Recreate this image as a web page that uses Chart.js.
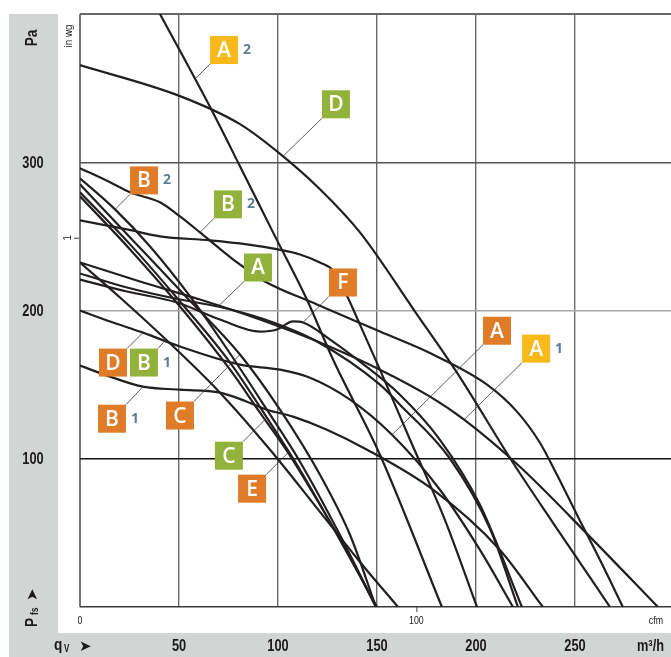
<!DOCTYPE html>
<html><head><meta charset="utf-8">
<script src="https://cdn.jsdelivr.net/npm/chart.js@4.4.0/dist/chart.umd.min.js"></script>
<style>html,body{margin:0;padding:0;background:#fff}canvas{display:block}</style>
</head><body><canvas id="c" width="671" height="657"></canvas>
<script>
// Fan characteristic curves: static pressure P_fs (Pa) over air flow q_V (m³/h)
const xTicks = [50, 100, 150, 200, 250];
const yTicks = [100, 200, 300];

const qD_g  = [0, 50.5, 80.8, 100, 121.2, 141.4, 169.2, 190.4, 218.7, 238.9, 267.7];
const pD_g  = [365.5, 344.6, 325.7, 306.8, 281.8, 252.7, 199.3, 158.1, 97.3, 56.8, 0];
const qA2_y = [40.4, 65.7, 80.8, 97.5, 114.6, 127.8, 151.5, 182.8];
const pA2_y = [400, 337.2, 297.3, 252.7, 207.4, 166.9, 102.7, 0];
const qB2_g = [0, 15.2, 25.3, 40.4, 50.5, 60.6, 69.2, 79.3, 93.4, 119.7, 151.5, 178.3, 205.6, 220.7, 232.3, 240.9, 251, 262.6, 274.2];
const pB2_g = [296, 286.5, 279.7, 273, 263.5, 252.7, 243.2, 232.4, 219.6, 204.1, 185.8, 170.3, 150, 131.8, 110.8, 89.2, 62.2, 31.8, 0];
const qB2_o = [0, 17.7, 35.4, 55.6, 75.8, 93.4, 111.1, 131.3, 149.5];
const pB2_o = [289.2, 268.2, 243.2, 209.5, 171, 135.1, 98, 48.6, 0];
const qC_o  = [0, 25.3, 53, 80.8, 101, 121.2, 136.4, 149.5];
const pC_o  = [285.1, 249.3, 210.1, 170.3, 133.1, 89.2, 48.6, 0];
const qC_g  = [0, 25.3, 50.5, 75.8, 94.4, 111.1, 131.3, 150];
const pC_g  = [279.7, 244.6, 206.1, 164.9, 127.7, 92.6, 45.3, 0];
const qE_o  = [0, 25.3, 50.5, 75.8, 90.9, 105.1, 121.2, 136.4, 149.5];
const pE_o  = [277, 241.2, 202.7, 160.1, 131.1, 104.1, 68.9, 33.8, 0];
const qB1_g = [0, 20.2, 43.4, 70.7, 96, 121.2, 141.4, 160.6];
const pB1_g = [232.4, 208.8, 180.4, 144.6, 106.1, 64.2, 30.4, 0];
const qA1_y = [0, 30.3, 60.6, 90.9, 121.2, 151.5, 176.8, 194, 222.2, 257.6, 291.9];
const pA1_y = [232.4, 219.6, 207.4, 193.9, 178.4, 160.1, 141.9, 126.4, 94.6, 47.3, 0];
const qA_g  = [0, 23.7, 50.5, 69.7, 93.4, 119.7, 151.5, 161.6, 186.9, 207.1, 221.2];
const pA_g  = [225, 215.5, 207.4, 202.7, 193.9, 179.1, 150, 136.5, 100, 52.7, 0];
const qF_o  = [0, 23.7, 49, 70.7, 90.9, 99.5, 107.6, 112.6, 126.3, 141.4, 161.6, 181.8, 202, 223.2];
const pF_o  = [220.9, 212.8, 205.4, 193.9, 185.8, 187.2, 192.6, 191.9, 180.4, 165.5, 143.2, 112.8, 68.9, 0];
const qD_o  = [0, 15.2, 31.8, 50.5, 80.8, 101, 116.2, 136.4, 157.6, 181.8, 202, 218.7];
const pD_o  = [200, 192.6, 185.1, 175.7, 163.5, 160.1, 154.7, 139.9, 116.2, 79.1, 38.5, 0];
const qB1_o = [0, 15.2, 31.8, 50.5, 70.7, 84.3, 94.4, 107.6, 124.7, 145, 178.3, 212.1, 233.8];
const pB1_o = [162.8, 155.4, 148.6, 146.6, 144.6, 138.5, 133.1, 128.4, 119.6, 106.1, 79.1, 38.5, 0];
const qK    = [0, 23.7, 40.4, 65.7, 84.3, 100, 111.1, 121.2, 127.8, 133.8, 141.4, 151.5, 166.7, 184.3, 200.5];
const pK    = [260.8, 254.7, 250, 247.3, 244.6, 241.2, 237.8, 232.4, 227, 212.8, 190.5, 160.1, 112.8, 58.8, 0];

const curves = [
  [qD_g, pD_g], [qA2_y, pA2_y], [qB2_g, pB2_g], [qB2_o, pB2_o],
  [qC_o, pC_o], [qC_g, pC_g], [qE_o, pE_o], [qB1_g, pB1_g],
  [qA1_y, pA1_y], [qA_g, pA_g], [qF_o, pF_o], [qD_o, pD_o],
  [qB1_o, pB1_o], [qK, pK]
];

const ORANGE = '#e07b27', GREEN = '#93b23b', YELLOW = '#f9b91a';
// curve tags: text, colour, speed index, point on the curve (q, P), box offset in px
const tags = [
  {t:'A', c:YELLOW, s:'2', q:58.6,  p:356.8, dx:14,  dy:-42},
  {t:'D', c:GREEN,  s:'',  q:102.5, p:304,   dx:39,  dy:-66},
  {t:'B', c:ORANGE, s:'2', q:17.7,  p:268.2, dx:15,  dy:-43},
  {t:'B', c:GREEN,  s:'2', q:60.6,  p:252.7, dx:14,  dy:-42},
  {t:'A', c:GREEN,  s:'',  q:69.7,  p:202.7, dx:26,  dy:-53},
  {t:'F', c:ORANGE, s:'',  q:112.6, p:191.9, dx:26,  dy:-54},
  {t:'D', c:ORANGE, s:'',  q:31.8,  p:185.1, dx:-44, dy:16},
  {t:'B', c:GREEN,  s:'1', q:43.4,  p:180.4, dx:-36, dy:9},
  {t:'B', c:ORANGE, s:'1', q:31.8,  p:148.6, dx:-45, dy:18},
  {t:'C', c:ORANGE, s:'',  q:80.8,  p:170.3, dx:-74, dy:47},
  {t:'C', c:GREEN,  s:'',  q:94.4,  p:127.7, dx:-52, dy:24},
  {t:'E', c:ORANGE, s:'',  q:105.1, p:104.1, dx:-50, dy:22},
  {t:'A', c:ORANGE, s:'',  q:157.6, p:116.2, dx:91,  dy:-118},
  {t:'A', c:YELLOW, s:'1', q:194,   p:126.4, dx:58,  dy:-85}
];

const BOLD = 'bold 16px "Liberation Sans", Arial, sans-serif';
const SMALL = '11px "Liberation Sans", Arial, sans-serif';

// draw text squeezed horizontally, like a condensed face
function narrowText(ctx, txt, x, y, align, sx) {
  ctx.save();
  ctx.translate(x, y);
  ctx.scale(sx, 1);
  ctx.textAlign = align;
  ctx.fillText(txt, 0, 0);
  ctx.restore();
}

const frame = {
  id: 'frame',
  beforeDraw(chart) {
    const ctx = chart.ctx;
    ctx.save();
    ctx.fillStyle = '#fff';
    ctx.fillRect(0, 0, chart.width, chart.height);
    ctx.fillStyle = '#d3d4d4';
    ctx.fillRect(9, 14, 49, 643);
    ctx.fillRect(9, 633, 662, 24);
    ctx.restore();
  },
  afterDraw(chart) {
    const ctx = chart.ctx, x = chart.scales.x, y = chart.scales.y;
    const a = chart.chartArea;
    ctx.save();
    ctx.fillStyle = '#1a1a1a';
    ctx.textBaseline = 'middle';
    ctx.font = BOLD;
    yTicks.forEach(v => narrowText(ctx, String(v), 33, y.getPixelForValue(v) + 1, 'center', 0.8));
    xTicks.forEach(v => narrowText(ctx, String(v), x.getPixelForValue(v), 647, 'center', 0.8));
    narrowText(ctx, 'm³/h', 664, 647, 'right', 0.8);
    // flow symbol
    narrowText(ctx, 'q', 54, 646, 'left', 0.85);
    ctx.font = 'bold 10px "Liberation Sans", Arial, sans-serif';
    narrowText(ctx, 'V', 64, 649, 'left', 0.8);
    ctx.font = 'bold 15px DejaVu Sans';
    narrowText(ctx, '➤', 79, 647, 'left', 1);
    // pressure symbols (rotated)
    ctx.save();
    ctx.translate(33, 38);
    ctx.rotate(-Math.PI / 2);
    ctx.font = BOLD;
    narrowText(ctx, 'Pa', 0, 0, 'center', 0.85);
    ctx.restore();
    ctx.save();
    ctx.translate(33, 627);
    ctx.rotate(-Math.PI / 2);
    ctx.font = BOLD;
    narrowText(ctx, 'P', 0, 0, 'left', 0.85);
    ctx.font = 'bold 10px "Liberation Sans", Arial, sans-serif';
    narrowText(ctx, 'fs', 12, 2, 'left', 0.85);
    ctx.font = 'bold 15px DejaVu Sans';
    narrowText(ctx, '➤', 26, 0, 'left', 1);
    ctx.restore();
    // secondary units
    ctx.fillStyle = '#222';
    ctx.font = SMALL;
    ctx.save();
    ctx.translate(69, 36);
    ctx.rotate(-Math.PI / 2);
    narrowText(ctx, 'in wg', 0, 0, 'center', 0.9);
    ctx.restore();
    const yIn = y.getPixelForValue(249.1);
    ctx.save();
    ctx.translate(68, yIn);
    ctx.rotate(-Math.PI / 2);
    narrowText(ctx, '1', 0, 0, 'center', 0.9);
    ctx.restore();
    ctx.strokeStyle = '#444';
    ctx.lineWidth = 1;
    ctx.beginPath();
    ctx.moveTo(74, yIn + 0.5); ctx.lineTo(79, yIn + 0.5);
    const xCfm = x.getPixelForValue(169.9);
    ctx.moveTo(xCfm + 0.5, a.bottom); ctx.lineTo(xCfm + 0.5, a.bottom + 5);
    ctx.stroke();
    narrowText(ctx, '0', a.left, 621, 'center', 0.8);
    narrowText(ctx, '100', xCfm, 621, 'center', 0.8);
    narrowText(ctx, 'cfm', 663, 621, 'right', 0.8);
    // curve tags
    tags.forEach(g => {
      const px = x.getPixelForValue(g.q), py = y.getPixelForValue(g.p);
      const bx = px + g.dx, by = py + g.dy, S = 28;
      const cx = g.dx > 0 ? bx : bx + S;
      const cy = g.dy > 0 ? by : by + S;
      ctx.strokeStyle = '#333';
      ctx.lineWidth = 0.8;
      ctx.beginPath();
      ctx.moveTo(px, py); ctx.lineTo(cx, cy);
      ctx.stroke();
      ctx.fillStyle = g.c;
      ctx.fillRect(bx, by, S, S);
      ctx.fillStyle = '#fff';
      ctx.font = '600 21px "Open Sans", sans-serif';
      ctx.textAlign = 'center';
      ctx.fillText(g.t, bx + S / 2, by + S / 2 + 1);
      if (g.s) {
        ctx.fillStyle = '#5d7d96';
        ctx.font = 'bold 14px "Open Sans", sans-serif';
        ctx.textAlign = 'left';
        ctx.fillText(g.s, bx + S + 5, by + S / 2);
      }
    });
    ctx.restore();
  }
};

new Chart(document.getElementById('c'), {
  type: 'line',
  data: {
    datasets: curves.map(([q, p]) => ({
      data: q.map((v, i) => ({x: v, y: p[i]})),
      borderColor: '#231f20',
      borderWidth: 2.2,
      pointRadius: 0,
      fill: false,
      cubicInterpolationMode: 'monotone'
    }))
  },
  options: {
    responsive: false,
    animation: false,
    devicePixelRatio: 1,
    layout: {padding: {left: 80, top: 14, right: 0, bottom: 50}},
    plugins: {legend: {display: false}, tooltip: {enabled: false}},
    scales: {
      x: {
        type: 'linear', min: 0, max: 298.5,
        afterBuildTicks: s => { s.ticks = [0, ...xTicks].map(v => ({value: v})); },
        ticks: {display: false},
        border: {display: false},
        grid: {drawTicks: false, color: c => c.tick.value === 0 ? '#777' : '#6a6a6a', lineWidth: c => c.tick.value === 0 ? 2 : 1.4}
      },
      y: {
        type: 'linear', min: 0, max: 400,
        afterBuildTicks: s => { s.ticks = [0, ...yTicks, 400].map(v => ({value: v})); },
        ticks: {display: false},
        border: {display: false},
        grid: {
          drawTicks: false,
          color: c => ({0: '#3a3a3a', 100: '#111', 200: '#a8a8a8', 300: '#555', 400: '#666'})[c.tick.value],
          lineWidth: c => (c.tick.value === 400 ? 2 : 1.4)
        }
      }
    }
  },
  plugins: [frame]
});
</script></body></html>
